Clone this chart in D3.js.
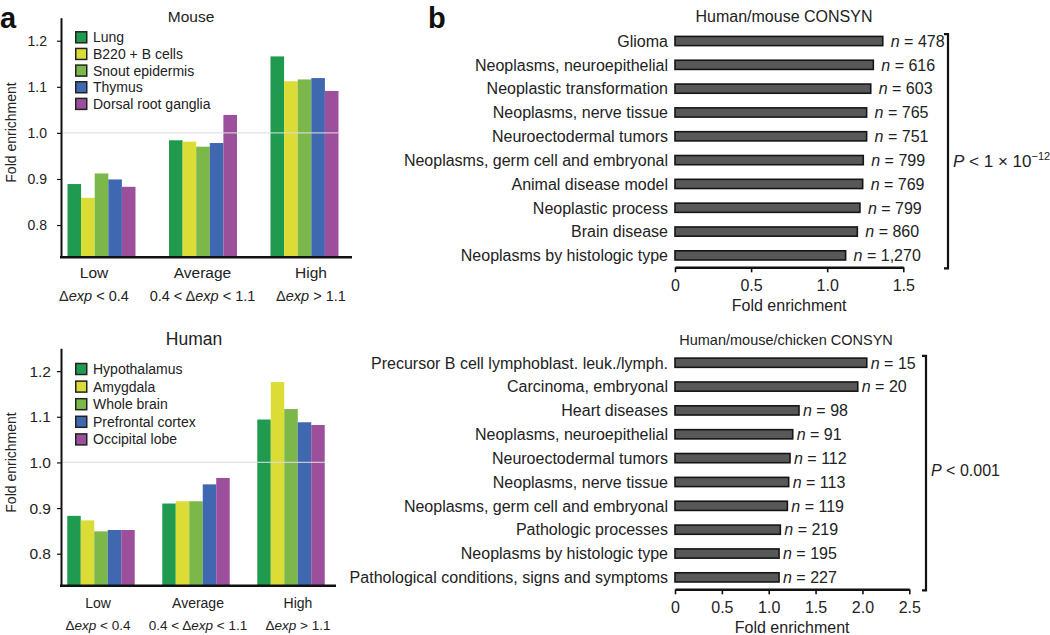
<!DOCTYPE html>
<html>
<head>
<meta charset="utf-8">
<script src="https://cdn.jsdelivr.net/npm/d3@7"></script>
<style>
  html, body { margin: 0; padding: 0; background: #fff; }
  svg { display: block; font-family: "Liberation Sans", Arial, Helvetica, sans-serif; }
</style>
</head>
<body>
<svg id="chart" width="1050" height="635"></svg>
<script>
// ---------------- DATA ----------------
const expCategories = ["Low", "Average", "High"];
const expConditions = ["Δexp < 0.4", "0.4 < Δexp < 1.1", "Δexp > 1.1"];
const foldTicksA = [0.8, 0.9, 1.0, 1.1, 1.2];

const tissueColors = ["#1f9a4f", "#dcdc36", "#7cb749", "#4068b0", "#9c4f9b"];

const mouseTissues = ["Lung", "B220 + B cells", "Snout epidermis", "Thymus", "Dorsal root ganglia"];
const mouseLow     = [0.889, 0.859, 0.912, 0.899, 0.883];
const mouseAverage = [0.984, 0.981, 0.970, 0.978, 1.039];
const mouseHigh    = [1.166, 1.112, 1.116, 1.119, 1.091];

const humanTissues = ["Hypothalamus", "Amygdala", "Whole brain", "Prefrontal cortex", "Occipital lobe"];
const humanLow     = [0.883, 0.873, 0.849, 0.852, 0.852];
const humanAverage = [0.910, 0.915, 0.915, 0.952, 0.966];
const humanHigh    = [1.094, 1.176, 1.117, 1.088, 1.082];

const hmTerms = ["Glioma", "Neoplasms, neuroepithelial", "Neoplastic transformation",
  "Neoplasms, nerve tissue", "Neuroectodermal tumors", "Neoplasms, germ cell and embryonal",
  "Animal disease model", "Neoplastic process", "Brain disease", "Neoplasms by histologic type"];
const hmFold = [1.365, 1.303, 1.286, 1.259, 1.259, 1.237, 1.233, 1.215, 1.198, 1.121];
const hmN = ["478", "616", "603", "765", "751", "799", "769", "799", "860", "1,270"];
const hmTicks = [0, 0.5, 1.0, 1.5];

const hmcTerms = ["Precursor B cell lymphoblast. leuk./lymph.", "Carcinoma, embryonal", "Heart diseases",
  "Neoplasms, neuroepithelial", "Neuroectodermal tumors", "Neoplasms, nerve tissue",
  "Neoplasms, germ cell and embryonal", "Pathologic processes", "Neoplasms by histologic type",
  "Pathological conditions, signs and symptoms"];
const hmcFold = [2.046, 1.950, 1.323, 1.256, 1.227, 1.213, 1.199, 1.124, 1.110, 1.110];
const hmcN = ["15", "20", "98", "91", "112", "113", "119", "219", "195", "227"];
const hmcTicks = [0, 0.5, 1.0, 1.5, 2.0, 2.5];

// ---------------- DRAW ----------------
const svg = d3.select("#chart");

function addExpLabel(sel, str) {
  const parts = str.split("exp");
  parts.forEach((p, i) => {
    if (i > 0) sel.append("tspan").attr("font-style", "italic").text("exp");
    if (p) sel.append("tspan").text(p);
  });
}

function panelA(opt) {
  const g = svg.append("g");
  const series = [opt.low, opt.avg, opt.high];
  const y = d3.scaleLinear().domain([0.73, 1.25]).range([opt.bottom, opt.top]);
  const x0 = d3.scaleBand().domain(expCategories).range([opt.left, opt.groupRight])
    .paddingInner(opt.padInner).paddingOuter(opt.padOuter);
  const x1 = d3.scaleBand().domain(opt.tissues).range([0, x0.bandwidth()]);
  const labelX = d3.scalePoint().domain(expCategories).range(opt.labelRange);

  // bars
  expCategories.forEach((c, ci) => {
    g.selectAll(null).data(opt.tissues).enter().append("rect")
      .attr("x", t => x0(c) + x1(t))
      .attr("width", x1.bandwidth())
      .attr("y", (t, i) => y(series[ci][i]))
      .attr("height", (t, i) => opt.bottom - y(series[ci][i]))
      .attr("fill", (t, i) => tissueColors[i]);
  });

  // reference line at 1.0 (drawn above bars)
  g.append("line")
    .attr("x1", opt.left).attr("x2", opt.refRight)
    .attr("y1", y(1.0)).attr("y2", y(1.0))
    .attr("stroke", "#dcdcdc").attr("stroke-opacity", 0.85).attr("stroke-width", 1.2);

  // y axis
  const ax = g.append("g").attr("transform", `translate(${opt.left},0)`)
    .call(d3.axisLeft(y).tickValues(foldTicksA).tickFormat(d3.format(".1f"))
      .tickSize(4).tickSizeOuter(0).tickPadding(opt.tickPad));
  ax.select(".domain").attr("stroke", "#111").attr("stroke-width", 2);
  ax.selectAll(".tick line").attr("stroke", "#111").attr("stroke-width", 1.2);
  ax.selectAll(".tick text").attr("font-size", opt.tickFont).attr("fill", "#222")
    .attr("font-family", "Liberation Sans, Arial, sans-serif");

  // x axis baseline
  g.append("line").attr("x1", opt.left - 1).attr("x2", opt.axisRight)
    .attr("y1", opt.bottom).attr("y2", opt.bottom)
    .attr("stroke", "#111").attr("stroke-width", 2.5);

  // category labels
  g.selectAll(null).data(expCategories).enter().append("text")
    .attr("x", c => labelX(c)).attr("y", opt.catY)
    .attr("text-anchor", "middle").attr("font-size", opt.catFont).attr("fill", "#222")
    .text(c => c);
  expCategories.forEach((c, i) => {
    const t = g.append("text").attr("x", labelX(c)).attr("y", opt.condY)
      .attr("text-anchor", "middle").attr("font-size", opt.condFont).attr("fill", "#222");
    addExpLabel(t, expConditions[i]);
  });

  // y label
  g.append("text").attr("transform", `translate(${opt.ylabX},${opt.ylabY}) rotate(-90)`)
    .attr("text-anchor", "middle").attr("font-size", 14).attr("fill", "#222")
    .text("Fold enrichment");

  // title
  g.append("text").attr("x", opt.titleX).attr("y", opt.titleY)
    .attr("text-anchor", "middle").attr("font-size", opt.titleFont).attr("fill", "#222")
    .text(opt.title);

  // legend
  const lg = g.selectAll(null).data(opt.tissues).enter().append("g")
    .attr("transform", (t, i) => `translate(75,${opt.legTop + i * opt.legStep})`);
  lg.append("rect").attr("x", 0.75).attr("y", -5.5).attr("width", 11).attr("height", 11)
    .attr("fill", (t, i) => tissueColors[i]).attr("stroke", "#222").attr("stroke-width", 1.5);
  lg.append("text").attr("x", 18).attr("y", 5).attr("font-size", 14).attr("fill", "#222")
    .text(t => t);
}

panelA({
  tissues: mouseTissues, low: mouseLow, avg: mouseAverage, high: mouseHigh,
  top: 17.7, bottom: 257.3, left: 61, groupRight: 345, padInner: 0.33, padOuter: 0.064,
  refRight: 340, axisRight: 352, labelRange: [94, 311],
  catY: 277.5, condY: 300.5, catFont: 15.5, condFont: 14.5,
  tickPad: 10, tickFont: 14, ylabX: 16, ylabY: 132.5,
  title: "Mouse", titleX: 191, titleY: 22, titleFont: 15.5,
  legTop: 37.3, legStep: 16.65
});

panelA({
  tissues: humanTissues, low: humanLow, avg: humanAverage, high: humanHigh,
  top: 348.3, bottom: 585.7, left: 61, groupRight: 331, padInner: 0.29, padOuter: 0.066,
  refRight: 325, axisRight: 336, labelRange: [98, 298],
  catY: 608, condY: 630, catFont: 14, condFont: 13.5,
  tickPad: 6, tickFont: 15.5, ylabX: 16, ylabY: 462.5,
  title: "Human", titleX: 194, titleY: 344.5, titleFont: 17.5,
  legTop: 369, legStep: 17.6
});

function panelB(opt) {
  const g = svg.append("g");
  const x = d3.scaleLinear().domain([0, opt.ticks[opt.ticks.length - 1]]).range([675, opt.xRight]);
  const y = d3.scaleBand().domain(opt.terms).range([opt.rowTop, opt.axisY]);

  g.selectAll(null).data(opt.terms).enter().append("rect")
    .attr("x", x(0))
    .attr("y", t => y(t) + y.bandwidth() / 2 - 4.6)
    .attr("width", (t, i) => x(opt.fold[i]) - x(0))
    .attr("height", 9.2)
    .attr("fill", "#585858").attr("stroke", "#151515").attr("stroke-width", 1.6);

  g.selectAll(null).data(opt.terms).enter().append("text")
    .attr("x", 668).attr("y", t => y(t) + y.bandwidth() / 2 + 5.8)
    .attr("text-anchor", "end").attr("font-size", 16).attr("fill", "#222")
    .text(t => t);

  opt.terms.forEach((t, i) => {
    const tx = g.append("text").attr("x", x(opt.fold[i]) + opt.nGap)
      .attr("y", y(t) + y.bandwidth() / 2 + 5.8)
      .attr("font-size", 16).attr("fill", "#222");
    tx.append("tspan").attr("font-style", "italic").text("n");
    tx.append("tspan").text(" = " + opt.n[i]);
  });

  const ax = g.append("g").attr("transform", `translate(0,${opt.axisY})`)
    .call(d3.axisBottom(x).tickValues(opt.ticks)
      .tickFormat(d => d === 0 ? "0" : d.toFixed(1))
      .tickSize(5).tickSizeOuter(0).tickPadding(7));
  ax.select(".domain").attr("stroke", "#111").attr("stroke-width", 2.4);
  ax.selectAll(".tick line").attr("stroke", "#111").attr("stroke-width", 1.6);
  ax.selectAll(".tick text").attr("font-size", 16).attr("fill", "#222")
    .attr("font-family", "Liberation Sans, Arial, sans-serif");

  g.append("text").attr("x", (x.range()[0] + x.range()[1]) / 2).attr("y", opt.axisY + 44)
    .attr("text-anchor", "middle").attr("font-size", 16).attr("fill", "#222")
    .text("Fold enrichment");

  g.append("text").attr("x", opt.titleX).attr("y", opt.titleY)
    .attr("text-anchor", "middle").attr("font-size", opt.titleFont).attr("fill", "#222")
    .text(opt.title);

  // bracket
  const bx = opt.bracketX, by0 = opt.rowTop + 5, by1 = opt.axisY + 1;
  g.append("path")
    .attr("d", `M${bx - 4},${by0} H${bx} V${by1} H${bx - 4}`)
    .attr("fill", "none").attr("stroke", "#111").attr("stroke-width", 2.2);

  const pt = g.append("text").attr("x", bx + 5).attr("y", (by0 + by1) / 2 + opt.pDy)
    .attr("font-size", opt.pFont).attr("fill", "#222");
  pt.append("tspan").attr("font-style", "italic").text("P");
  pt.append("tspan").text(opt.pText);
  if (opt.pSup) {
    pt.append("tspan").attr("dy", -7).attr("font-size", 11).text(opt.pSup);
  }
}

panelB({
  terms: hmTerms, fold: hmFold, n: hmN, ticks: hmTicks, xRight: 903.3,
  rowTop: 29.1, axisY: 267.3, nGap: 8,
  title: "Human/mouse CONSYN", titleX: 784, titleY: 22, titleFont: 16,
  bracketX: 948, pText: " < 1 × 10", pSup: "−12", pFont: 17, pDy: 16
});

panelB({
  terms: hmcTerms, fold: hmcFold, n: hmcN, ticks: hmcTicks, xRight: 909.3,
  rowTop: 350.8, axisY: 589.3, nGap: 4,
  title: "Human/mouse/chicken CONSYN", titleX: 786, titleY: 345, titleFont: 14.5,
  bracketX: 926, pText: " < 0.001", pSup: null, pFont: 16, pDy: 3
});

// panel letters
svg.append("text").attr("x", 0).attr("y", 28).attr("font-size", 29).attr("font-weight", "bold")
  .attr("fill", "#111").text("a");
svg.append("text").attr("x", 428).attr("y", 28).attr("font-size", 29).attr("font-weight", "bold")
  .attr("fill", "#111").text("b");
</script>
</body>
</html>
